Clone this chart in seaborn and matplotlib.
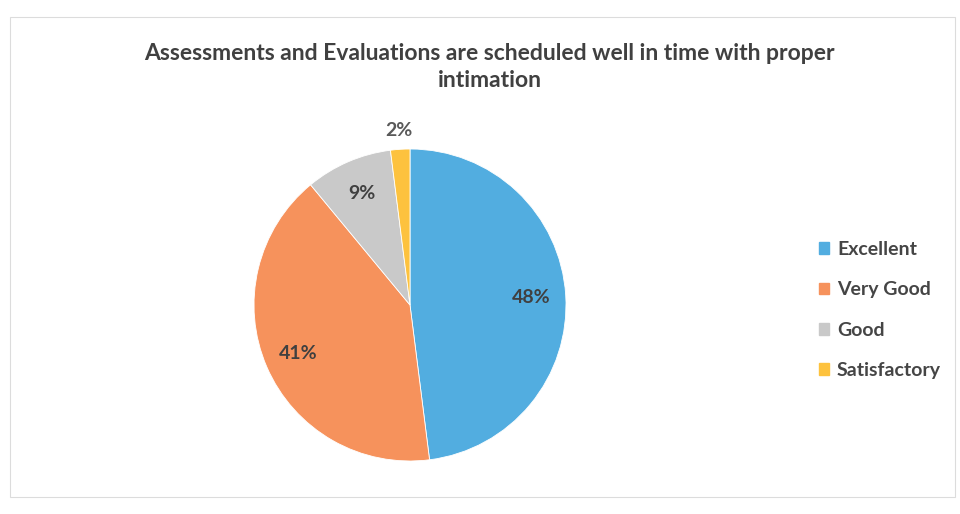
import numpy as np
import matplotlib
matplotlib.use("Agg")
import matplotlib.pyplot as plt
import seaborn as sns

categories = ["Excellent", "Very Good", "Good", "Satisfactory"]
shares = [48, 41, 9, 2]
colors = ["#52ade0", "#f6925c", "#c9c9c9", "#fdc23e"]
title = "Assessments and Evaluations are scheduled well in time with proper\nintimation"

sns.set_theme(style="white")
plt.rcParams["font.family"] = ["Lato", "DejaVu Sans"]

fig = plt.figure(figsize=(9.6, 5.14), dpi=100)

# faint chart-area border
border = plt.Rectangle((10 / 960, 17 / 514), 945 / 960, 480 / 514,
                       transform=fig.transFigure, fill=False,
                       edgecolor="#dcdcdc", linewidth=0.8)
fig.patches.append(border)

ax = fig.add_axes([(410 - 156) / 960, (514 - 305 - 156) / 514, 312 / 960, 312 / 514])
wedges, texts, autotexts = ax.pie(
    shares, colors=colors, startangle=90, counterclock=False,
    autopct="%d%%", pctdistance=0.78,
    wedgeprops=dict(edgecolor="white", linewidth=0.6),
    textprops=dict(fontsize=14, fontweight="bold", color="#404040"),
)
ax.set_xlim(-1, 1)
ax.set_ylim(-1, 1)
ax.set_aspect("equal")
ax.set_axis_off()

# small slice label goes outside the pie
w = wedges[-1]
mid = np.deg2rad((w.theta1 + w.theta2) / 2)
autotexts[-1].set_position((1.12 * np.cos(mid), 1.12 * np.sin(mid)))
autotexts[-1].set_color("#595959")

fig.text(0.51, 1 - 67 / 514, title, ha="center", va="center", fontsize=16.5,
         fontweight="bold", color="#404040", linespacing=1.3)

handles = [plt.Rectangle((0, 0), 1, 1, color=c) for c in colors]
leg = fig.legend(handles, categories, loc="center left",
                 bbox_to_anchor=(801 / 960, (514 - 310) / 514), frameon=False,
                 prop=dict(size=14, weight="bold"), handlelength=0.55,
                 handleheight=0.55, handletextpad=0.4, labelspacing=1.2)
for t in leg.get_texts():
    t.set_color("#454545")

fig.savefig("out.png", dpi=100)
